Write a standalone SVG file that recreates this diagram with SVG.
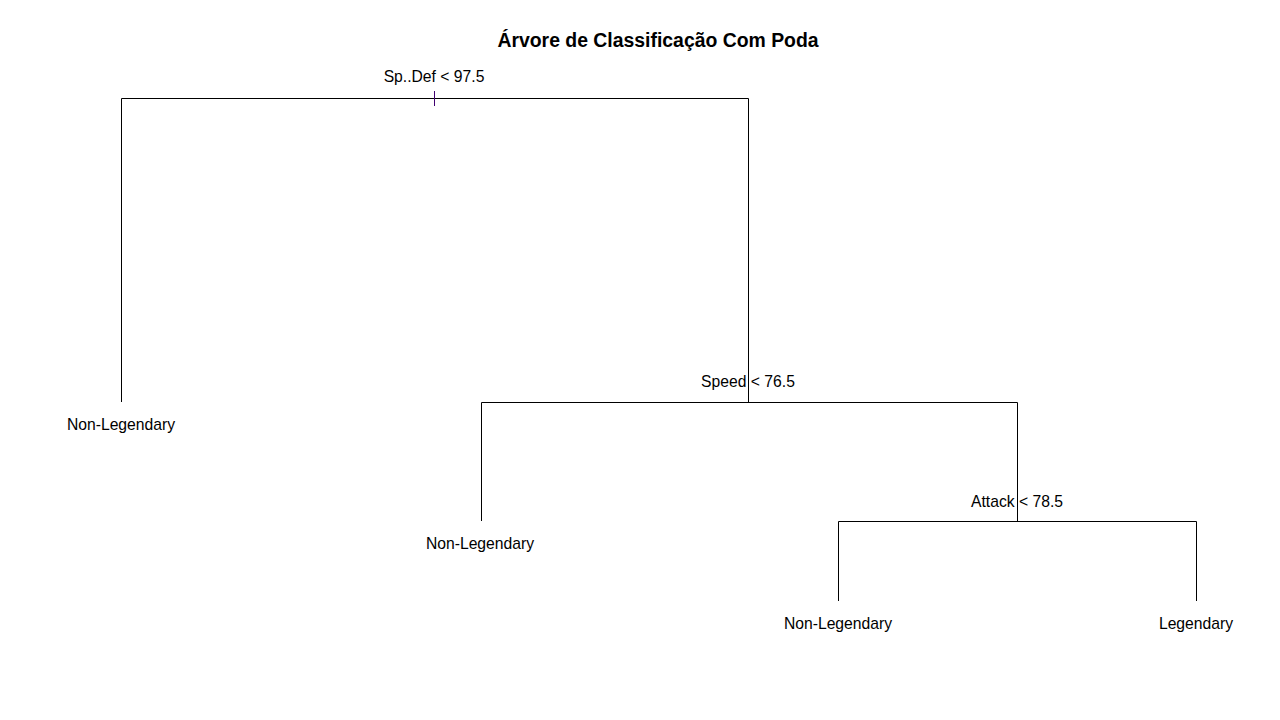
<svg xmlns="http://www.w3.org/2000/svg" width="1280" height="720" viewBox="0 0 1280 720">
<style>
.t{font-family:"Liberation Sans",Arial,sans-serif;font-size:15.7px;fill:#000;text-anchor:middle}
.title{font-family:"Liberation Sans",Arial,sans-serif;font-size:19.4px;font-weight:bold;fill:#000;text-anchor:middle}
.e{stroke:#000;stroke-width:1;fill:none}
</style>
<rect width="1280" height="720" fill="#fff"/>
<text class="title" x="658" y="47">Árvore de Classificação Com Poda</text>
<g id="connectors">
<path class="e" d="M121.5 402V98.5H748.5V402.5"/>
<path class="e" d="M481.5 521V402.5H1017.5V521"/>
<path class="e" d="M838.5 601V521.5H1196.5V601"/>
<line x1="434.5" y1="91" x2="434.5" y2="106" stroke="#400070" stroke-width="1"/>
</g>
<g id="n1"><text class="t" x="434" y="82">Sp..Def &lt; 97.5</text></g>
<g id="n2"><text class="t" x="121" y="430">Non-Legendary</text></g>
<g id="n3"><text class="t" x="748" y="387">Speed &lt; 76.5</text></g>
<g id="n4"><text class="t" x="480" y="549">Non-Legendary</text></g>
<g id="n5"><text class="t" x="1017" y="507">Attack &lt; 78.5</text></g>
<g id="n6"><text class="t" x="838" y="629">Non-Legendary</text></g>
<g id="n7"><text class="t" x="1196" y="629">Legendary</text></g>
</svg>
